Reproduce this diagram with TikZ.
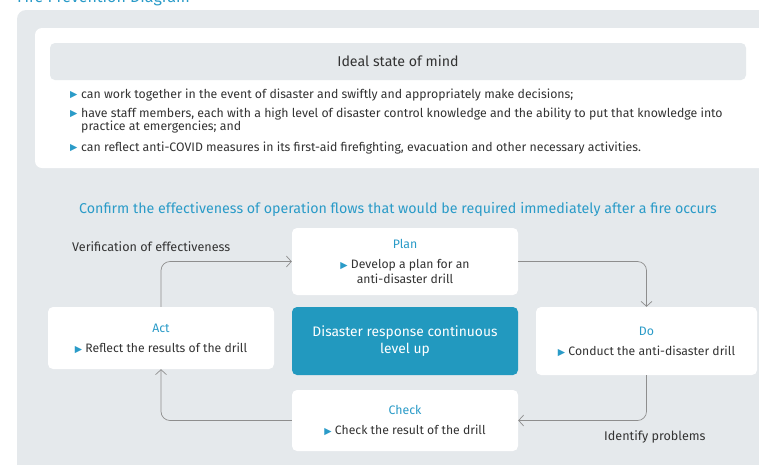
\documentclass[tikz,border=0pt]{standalone}
\usepackage{fontspec}
\setmainfont{Fira Sans}
\newfontfamily\symf{DejaVu Sans}
\usetikzlibrary{arrows.meta}
\definecolor{panelgray}{HTML}{E5E9EC}
\definecolor{tblue}{HTML}{2A9BC8}
\definecolor{boxblue}{HTML}{2299BF}
\definecolor{txt}{HTML}{333333}
\definecolor{arr}{HTML}{8E8E8E}
\newcommand{\tri}{{\symf\color{tblue}\fontsize{9.5}{9.5}\selectfont ▶}}
\tikzset{
  card/.style={fill=white, rounded corners=5pt, minimum width=226pt, align=center, text=txt, font=\fontsize{12.2}{15}\selectfont, inner sep=0pt},
  ttl/.style={text=tblue, font=\fontsize{12.3}{14}\selectfont},
  flow/.style={draw=arr, line width=0.7pt, rounded corners=9pt, -{Straight Barb[length=5pt,width=11pt,line width=0.7pt]}},
  lbl/.style={text=txt, font=\fontsize{12.6}{14}\selectfont, inner sep=0pt},
  bul/.style={anchor=west, text=txt, font=\fontsize{12.3}{13}\selectfont, inner sep=0pt, align=left}
}
\begin{document}
\begin{tikzpicture}[x=1pt,y=-1pt]
\useasboundingbox (0,0) rectangle (759,464);
% cut-off title
\node[anchor=base west, text=tblue, font=\fontsize{16}{18}\selectfont, inner sep=0pt] (title) at (17,2) {Fire Prevention Diagram};
% panels
\fill[panelgray, rounded corners=9pt] (17,10) rectangle (790,490);
\fill[white, rounded corners=7pt] (35,28) rectangle (790,168);
\node[fill=panelgray, rounded corners=5pt, minimum width=696pt, minimum height=37pt, inner sep=0pt, text=txt, font=\fontsize{14.2}{16}\selectfont] (hdr) at (398,61.5) {Ideal state of mind};
% bullets
\node[bul] (b1t) at (70,95) {\tri};
\node[bul] (b1) at (81,95) {can work together in the event of disaster and swiftly and appropriately make decisions;};
\node[bul] (b2t) at (70,114) {\tri};
\node[bul, anchor=north west] (b2) at (81,108) {have staff members, each with a high level of disaster control knowledge and the ability to put that knowledge into\\practice at emergencies; and};
\node[bul] (b3t) at (70,148) {\tri};
\node[bul] (b3) at (81,148) {can reflect anti-COVID measures in its first-aid firefighting, evacuation and other necessary activities.};
% heading
\node[text=tblue, font=\fontsize{14.25}{16}\selectfont, inner sep=0pt] (head) at (398,209) {Confirm the effectiveness of operation flows that would be required immediately after a fire occurs};
% cards
\node[card, minimum height=67pt] (plan) at (405,261.5) {};
\node[ttl] (plant) at (405,244) {Plan};
\node[card, fill=none] (plantx) at (405,271.5) {\tri\ Develop a plan for an\\anti-disaster drill};
\node[card, fill=boxblue, minimum height=68pt, text=white, font=\fontsize{13.8}{17.5}\selectfont] (core) at (405,341) {Disaster response continuous\\level up};
\node[card, minimum height=62pt] (act) at (161,338) {};
\node[ttl] (actt) at (161,328) {Act};
\node[card, fill=none] (actx) at (161,348) {\tri\ Reflect the results of the drill};
\node[card, minimum height=68pt, minimum width=221pt] (do) at (646.5,341) {};
\node[ttl] (dot) at (646.5,331) {Do};
\node[card, fill=none] (dox) at (646.5,351) {\tri\ Conduct the anti-disaster drill};
\node[card, minimum height=61pt] (check) at (405,420.5) {};
\node[ttl] (checkt) at (405,410) {Check};
\node[card, fill=none] (checkx) at (405,430) {\tri\ Check the result of the drill};
% connectors
\draw[flow] (act.north) |- (plan.west);
\draw[flow] (plan.east) -| (do.north);
\draw[flow] (do.south) |- (check.east);
\draw[flow] (check.west) -| (act.south);
% labels
\node[lbl, anchor=west] (verif) at (72,247) {Verification of effectiveness};
\node[lbl, anchor=west] (ident) at (604,437) {Identify problems};
\end{tikzpicture}
\end{document}
